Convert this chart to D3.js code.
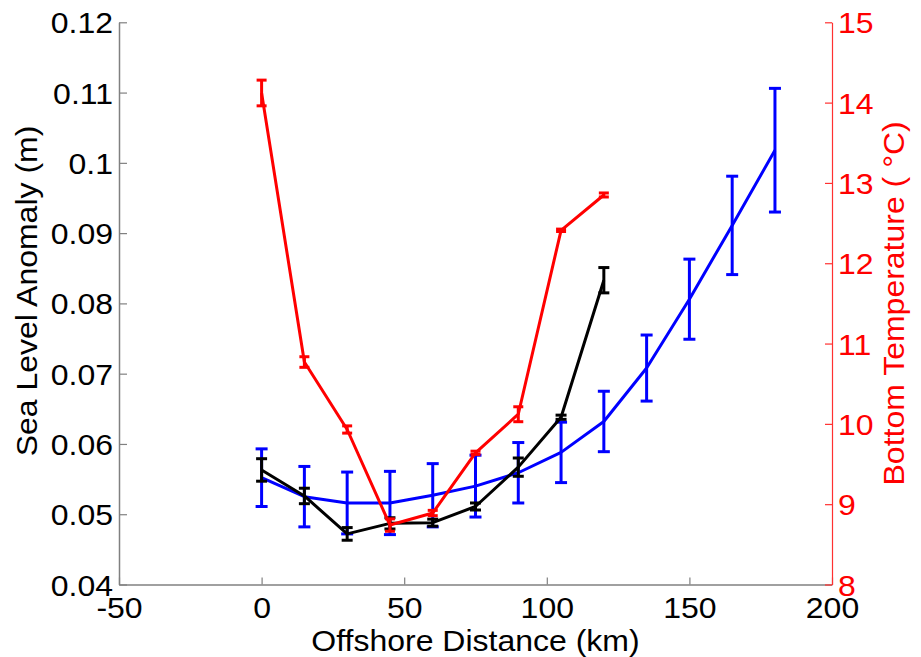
<!DOCTYPE html>
<html><head><meta charset="utf-8">
<script src="https://cdn.jsdelivr.net/npm/d3@7"></script>
<style>
body{margin:0;background:#fff}
svg text{font-family:"Liberation Sans",Arial,Helvetica,sans-serif}
</style>
</head><body>
<svg id="chart" width="921" height="657"></svg>
<script>
// ---- data ----
const blueDist = [0, 15, 30, 45, 60, 75, 90, 105, 120, 135, 150, 165, 180];
const blueSLA  = [0.0552, 0.0525, 0.0516, 0.0516, 0.0527, 0.0540, 0.0559, 0.0588, 0.0632, 0.0708, 0.0806, 0.0911, 0.1018];
const blueErr  = [0.0041, 0.0043, 0.0044, 0.0045, 0.0045, 0.0044, 0.0043, 0.0043, 0.0043, 0.0047, 0.0057, 0.0070, 0.0088];

const blackDist = [0, 15, 30, 45, 60, 75, 90, 105, 120];
const blackSLA  = [0.0563, 0.0526, 0.0472, 0.0487, 0.0488, 0.0511, 0.0567, 0.0638, 0.0833];
const blackErr  = [0.0016, 0.0011, 0.0009, 0.0008, 0.0005, 0.0005, 0.0013, 0.0003, 0.0018];

const redDist = [0, 15, 30, 45, 60, 75, 90, 105, 120];
const redTemp = [14.12, 10.77, 9.93, 8.74, 8.89, 9.64, 10.12, 12.41, 12.85];
const redErr  = [0.16, 0.066, 0.045, 0.077, 0.033, 0.02, 0.093, 0.015, 0.025];

const xTicks = [-50, 0, 50, 100, 150, 200];
const yLeftTicks = [0.04, 0.05, 0.06, 0.07, 0.08, 0.09, 0.1, 0.11, 0.12];
const yRightTicks = [8, 9, 10, 11, 12, 13, 14, 15];

const xTitle = "Offshore Distance (km)";
const yLeftTitle = "Sea Level Anomaly (m)";
const yRightTitle = "Bottom Temperature ( \u00B0C)";

// ---- layout ----
const L = 119, R = 832, T = 22.3, B = 584.5;
const FS = 32, SQ = 0.92; // font size, vertical squash of glyphs
const svg = d3.select("#chart");

const x = d3.scaleLinear().domain([-50, 200]).range([L, R]);
const yL = d3.scaleLinear().domain([0.04, 0.12]).range([B, T]);
const yR = d3.scaleLinear().domain([8, 15]).range([B, T]);

const axisGray = "#808080";

// left axis
const gL = svg.append("g").attr("transform", `translate(${L},0)`)
  .call(d3.axisLeft(yL).tickValues(yLeftTicks).tickFormat(d => String(d))
    .tickSizeInner(-8).tickSizeOuter(0).tickPadding(6));
gL.select(".domain").attr("stroke", axisGray).attr("stroke-width", 1.5);
gL.selectAll(".tick line").attr("stroke", axisGray).attr("stroke-width", 1.2);
gL.selectAll(".tick text").attr("fill", "#000").attr("font-size", FS)
  .attr("font-family", null).attr("dy", null).attr("y", 10.5 / SQ)
  .attr("transform", `scale(1,${SQ})`);

// bottom axis
const gB = svg.append("g").attr("transform", `translate(0,${B})`)
  .call(d3.axisBottom(x).tickValues(xTicks).tickFormat(d => String(d))
    .tickSizeInner(-7).tickSizeOuter(0).tickPadding(6));
gB.select(".domain").attr("stroke", axisGray).attr("stroke-width", 1.5);
gB.selectAll(".tick line").attr("stroke", axisGray).attr("stroke-width", 1.2);
gB.selectAll(".tick text").attr("fill", "#000").attr("font-size", FS)
  .attr("font-family", null).attr("dy", null).attr("y", (618 - B) / SQ)
  .attr("transform", `scale(1,${SQ})`);

// right axis
const gR = svg.append("g").attr("transform", `translate(${R},0)`)
  .call(d3.axisRight(yR).tickValues(yRightTicks).tickFormat(d => String(d))
    .tickSizeInner(-7).tickSizeOuter(0).tickPadding(6));
gR.select(".domain").attr("stroke", "#ff3030").attr("stroke-width", 1.2);
gR.selectAll(".tick line").attr("stroke", "#ff3030").attr("stroke-width", 1.2);
gR.selectAll(".tick text").attr("fill", "#ff0000").attr("font-size", FS)
  .attr("font-family", null).attr("dy", null).attr("y", 10.5 / SQ)
  .attr("transform", `scale(1,${SQ})`);

// titles
svg.append("g").attr("transform", `translate(${(L + R) / 2},651) scale(1,${SQ})`)
  .append("text").attr("text-anchor", "middle").attr("font-size", FS).attr("fill", "#000").text(xTitle);
svg.append("g").attr("transform", `translate(37,291) rotate(-90) scale(1,${SQ})`)
  .append("text").attr("text-anchor", "middle").attr("font-size", FS).attr("fill", "#000").text(yLeftTitle);
svg.append("g").attr("transform", `translate(904,${(T + B) / 2}) rotate(-90) scale(1,${SQ})`)
  .append("text").attr("text-anchor", "middle").attr("font-size", FS).attr("fill", "#ff0000").text(yRightTitle);

// series drawing
function drawSeries(dist, vals, errs, yScale, color, capW) {
  const data = dist.map((d, i) => ({ d, v: vals[i], e: errs[i] }));
  const g = svg.append("g");
  g.append("path").datum(data)
    .attr("d", d3.line().x(p => x(p.d)).y(p => yScale(p.v)))
    .attr("fill", "none").attr("stroke", color).attr("stroke-width", 3)
    .attr("stroke-linejoin", "round");
  const eb = g.selectAll(".eb").data(data).enter().append("g");
  eb.append("line")
    .attr("x1", p => x(p.d)).attr("x2", p => x(p.d))
    .attr("y1", p => yScale(p.v - p.e)).attr("y2", p => yScale(p.v + p.e))
    .attr("stroke", color).attr("stroke-width", 3);
  eb.append("line")
    .attr("x1", p => x(p.d) - capW / 2).attr("x2", p => x(p.d) + capW / 2)
    .attr("y1", p => yScale(p.v - p.e)).attr("y2", p => yScale(p.v - p.e))
    .attr("stroke", color).attr("stroke-width", 3);
  eb.append("line")
    .attr("x1", p => x(p.d) - capW / 2).attr("x2", p => x(p.d) + capW / 2)
    .attr("y1", p => yScale(p.v + p.e)).attr("y2", p => yScale(p.v + p.e))
    .attr("stroke", color).attr("stroke-width", 3);
}

drawSeries(blueDist, blueSLA, blueErr, yL, "#0000ff", 12);
drawSeries(blackDist, blackSLA, blackErr, yL, "#000000", 11);
drawSeries(redDist, redTemp, redErr, yR, "#ff0000", 10);
</script>
</body></html>
